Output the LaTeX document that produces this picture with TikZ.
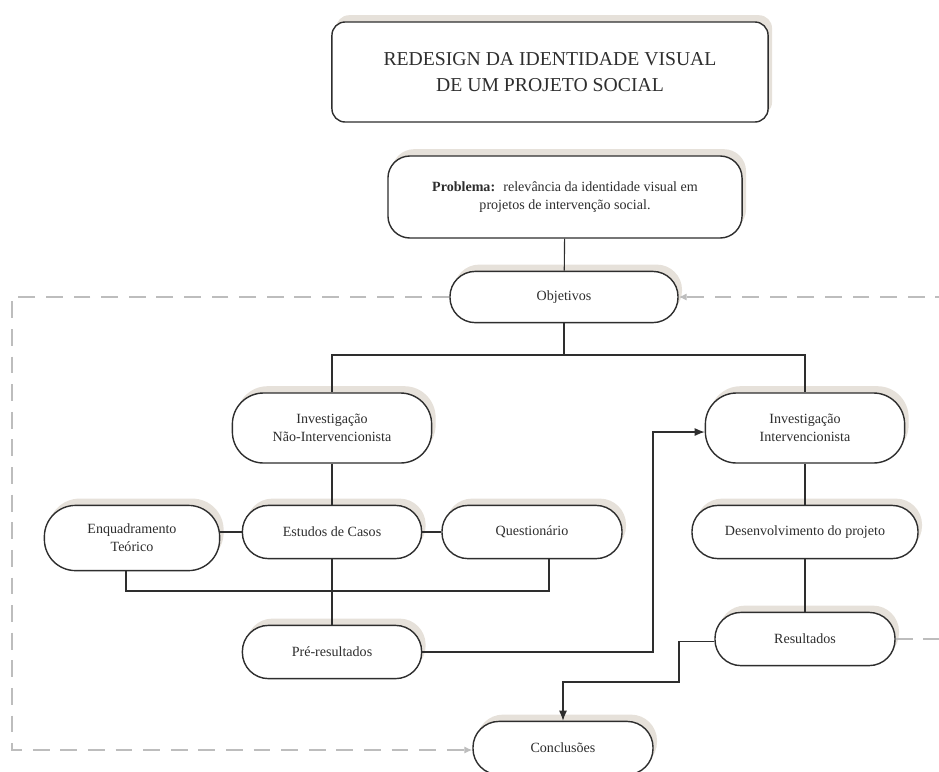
\documentclass[tikz,border=0pt]{standalone}
\usepackage{fontspec}
\setmainfont{Liberation Serif}
\usepackage{xcolor}
\usetikzlibrary{arrows.meta,shadows}
\definecolor{inkgray}{HTML}{2E2E2E}
\definecolor{shadebeige}{HTML}{E6E1DA}
\definecolor{fbgray}{HTML}{BDBDBD}

\begin{document}
\begin{tikzpicture}[x=0.025cm, y=-0.025cm,
  box/.style={draw=inkgray, line width=1pt, fill=white, align=center, text=inkgray,
    font=\fontsize{10}{13}\selectfont, minimum width=#1,
    drop shadow={shadow xshift=0.1cm, shadow yshift=0.17cm, fill=shadebeige, opacity=1}},
  pill/.style={box=#1, rounded corners=0.65cm, minimum height=1.33cm},
  tallpill/.style={box=#1, rounded corners=0.78cm},
  link/.style={draw=inkgray, line width=0.8pt},
  arr/.style={link, -{Latex[length=2.5mm, width=2mm]}},
  fback/.style={draw=fbgray, line width=0.9pt, dash pattern=on 0.42cm off 0.27cm, -{Latex[length=2mm, width=1.8mm]}}
]
  \useasboundingbox (0,0) rectangle (939,771);

  % top
  \node[box=10.9cm, rounded corners=0.33cm, minimum height=2.5cm, font=\fontsize{14}{18}\selectfont] (title) at (550,72)
    {REDESIGN DA IDENTIDADE VISUAL\\DE UM PROJETO SOCIAL};
  \node[box=8.85cm, rounded corners=0.55cm, minimum height=2.05cm] (prob) at (565,197)
    {\textbf{Problema:}~ relevância da identidade visual em\\projetos de intervenção social.};
  \node[pill=5.7cm, minimum height=1.28cm, rounded corners=0.63cm] (obj) at (564,297) {Objetivos};

  % two branches
  \node[tallpill=4.98cm, minimum height=1.75cm] (invn) at (332,428) {Investigação\\Não-Intervencionista};
  \node[tallpill=4.98cm, minimum height=1.75cm] (invi) at (805,428) {Investigação\\Intervencionista};

  \node[tallpill=4.38cm, minimum height=1.63cm] (enq) at (132,538) {Enquadramento\\Teórico};
  \node[pill=4.48cm] (est) at (332,532) {Estudos de Casos};
  \node[pill=4.5cm] (que) at (532,532) {Questionário};
  \node[pill=5.65cm] (dev) at (805,532) {Desenvolvimento do projeto};

  \node[pill=4.48cm] (pre) at (332,652) {Pré-resultados};
  \node[pill=4.5cm] (res) at (805,639) {Resultados};
  \node[pill=4.5cm] (conc) at (563,748) {Conclusões};

  % helper points
  \coordinate (split) at (564,355);
  \coordinate (enqdrop) at (126,591);
  \coordinate (quedrop) at (549,591);
  \coordinate (prejog) at (653,0);
  \coordinate (resjog) at (679,682);
  \coordinate (lefttop) at (12,297);
  \coordinate (leftbot) at (12,750);
  \coordinate (rightbot) at (960,639);
  \coordinate (righttop) at (960,297);

  % solid connectors
  \draw[link] (prob) -- (obj);
  \draw[link] (obj) -- (split);
  \draw[link] (invn.north) |- (split) -| (invi.north);
  \draw[link] (invn) -- (est);
  \draw[link] (invi) -- (dev);
  \draw[link] (dev) -- (res);
  \draw[link] (est.west) -- (est.west -| enq.east);
  \draw[link] (est) -- (que);
  \draw[link] (enq.south -| enqdrop) -- (enqdrop) -- (quedrop) -- (que.south -| quedrop);
  \draw[link] (est) -- (pre);
  \draw[arr] (pre.east) -- (pre.east -| prejog) -- ([yshift=-0.1cm]invi.west -| prejog) -- ([yshift=-0.1cm]invi.west);
  \draw[arr] ([yshift=-0.07cm]res.west) -- ([yshift=-0.07cm]res.west -| resjog) -- (resjog) -- (resjog -| conc.north) -- (conc.north);

  % feedback loops
  \draw[fback] (obj.west) -- (lefttop) -- (leftbot) -- (leftbot -| conc.west);
  \draw[fback] (res.east) -- (rightbot) -- (righttop) -- (obj.east);
\end{tikzpicture}
\end{document}
